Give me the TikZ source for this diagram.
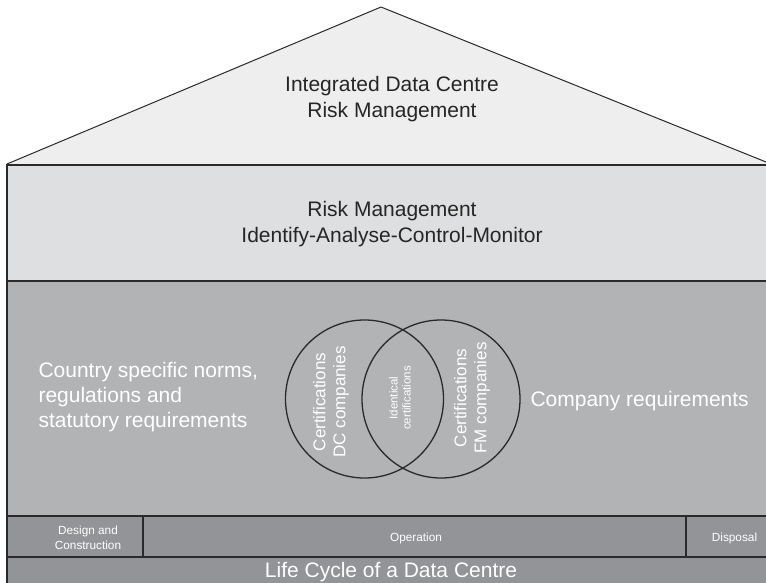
\documentclass[tikz,border=0pt]{standalone}
\usepackage{fontspec}
\setmainfont{Liberation Sans}
\definecolor{roofgray}{HTML}{EEEEEF}
\definecolor{riskgray}{HTML}{DEDFE0}
\definecolor{normgray}{HTML}{B2B3B5}
\definecolor{phasegray}{HTML}{939497}
\definecolor{edgegray}{HTML}{2A2A2A}
\tikzset{
  edge/.style={draw=edgegray, line width=1.2pt},
  darktext/.style={text=black!85, align=center, font=\fontsize{21}{26}\selectfont},
  whitetext/.style={text=white, font=\fontsize{21}{25}\selectfont},
  phasetext/.style={text=white, align=center, font=\fontsize{11.8}{14.5}\selectfont},
  circtext/.style={text=white, align=center, rotate=90, font=\fontsize{17}{20}\selectfont},
  smallcirc/.style={text=white, align=center, rotate=90, font=\fontsize{11.5}{13}\selectfont},
}
\begin{document}
\begin{tikzpicture}[x=1pt,y=-1pt]
\useasboundingbox (0,0) rectangle (766,583);
\clip (0,0) rectangle (766,583);
% roof
\coordinate (roofL) at (7,164);
\coordinate (apex) at (381,7);
\coordinate (roofR) at (771,164);
\fill[roofgray] (roofL) -- (apex) -- (roofR) -- cycle;
\draw[edgegray, line width=1pt, line join=round] (roofL) -- (apex) -- (roofR);
\node[darktext] (roofT) at (392,99) {Integrated Data Centre\\Risk Management};
% risk management band
\filldraw[fill=riskgray, edge] (7,165) rectangle (776,281);
\node[darktext] (riskT) at (392,224) {Risk Management\\Identify-Analyse-Control-Monitor};
% requirements band
\filldraw[fill=normgray, edge] (7,281) rectangle (776,516);
\node[whitetext, align=left, anchor=west] (countryT) at (35,397) {Country specific norms,\\regulations and\\statutory requirements};
\node[whitetext, anchor=west] (companyT) at (527,401) {Company requirements};
% certification circles
\node[circle, draw=edgegray, line width=1.3pt, minimum size=158pt, inner sep=0pt] (dcC) at (364.5,399) {};
\node[circle, draw=edgegray, line width=1.3pt, minimum size=158pt, inner sep=0pt] (fmC) at (441,399) {};
\node[circtext] (dcT) at (331,402) {Certifications\\DC companies};
\node[smallcirc] (idT) at (400,398) {Identical\\certifications};
\node[circtext] (fmT) at (472,398) {Certifications\\FM companies};
% life cycle phases
\filldraw[fill=phasegray, edge] (7,516) rectangle (143,557);
\filldraw[fill=phasegray, edge] (143,516) rectangle (686,557);
\filldraw[fill=phasegray, edge] (686,516) rectangle (776,557);
\node[phasetext] (designT) at (88,538) {Design and\\Construction};
\node[phasetext] (operT) at (416,538) {Operation};
\node[phasetext] (dispT) at (734.5,538) {Disposal};
% base band
\filldraw[fill=phasegray, edge] (7,557) rectangle (776,590);
\node[whitetext] (lifeT) at (391,572) {Life Cycle of a Data Centre};
\end{tikzpicture}
\end{document}
